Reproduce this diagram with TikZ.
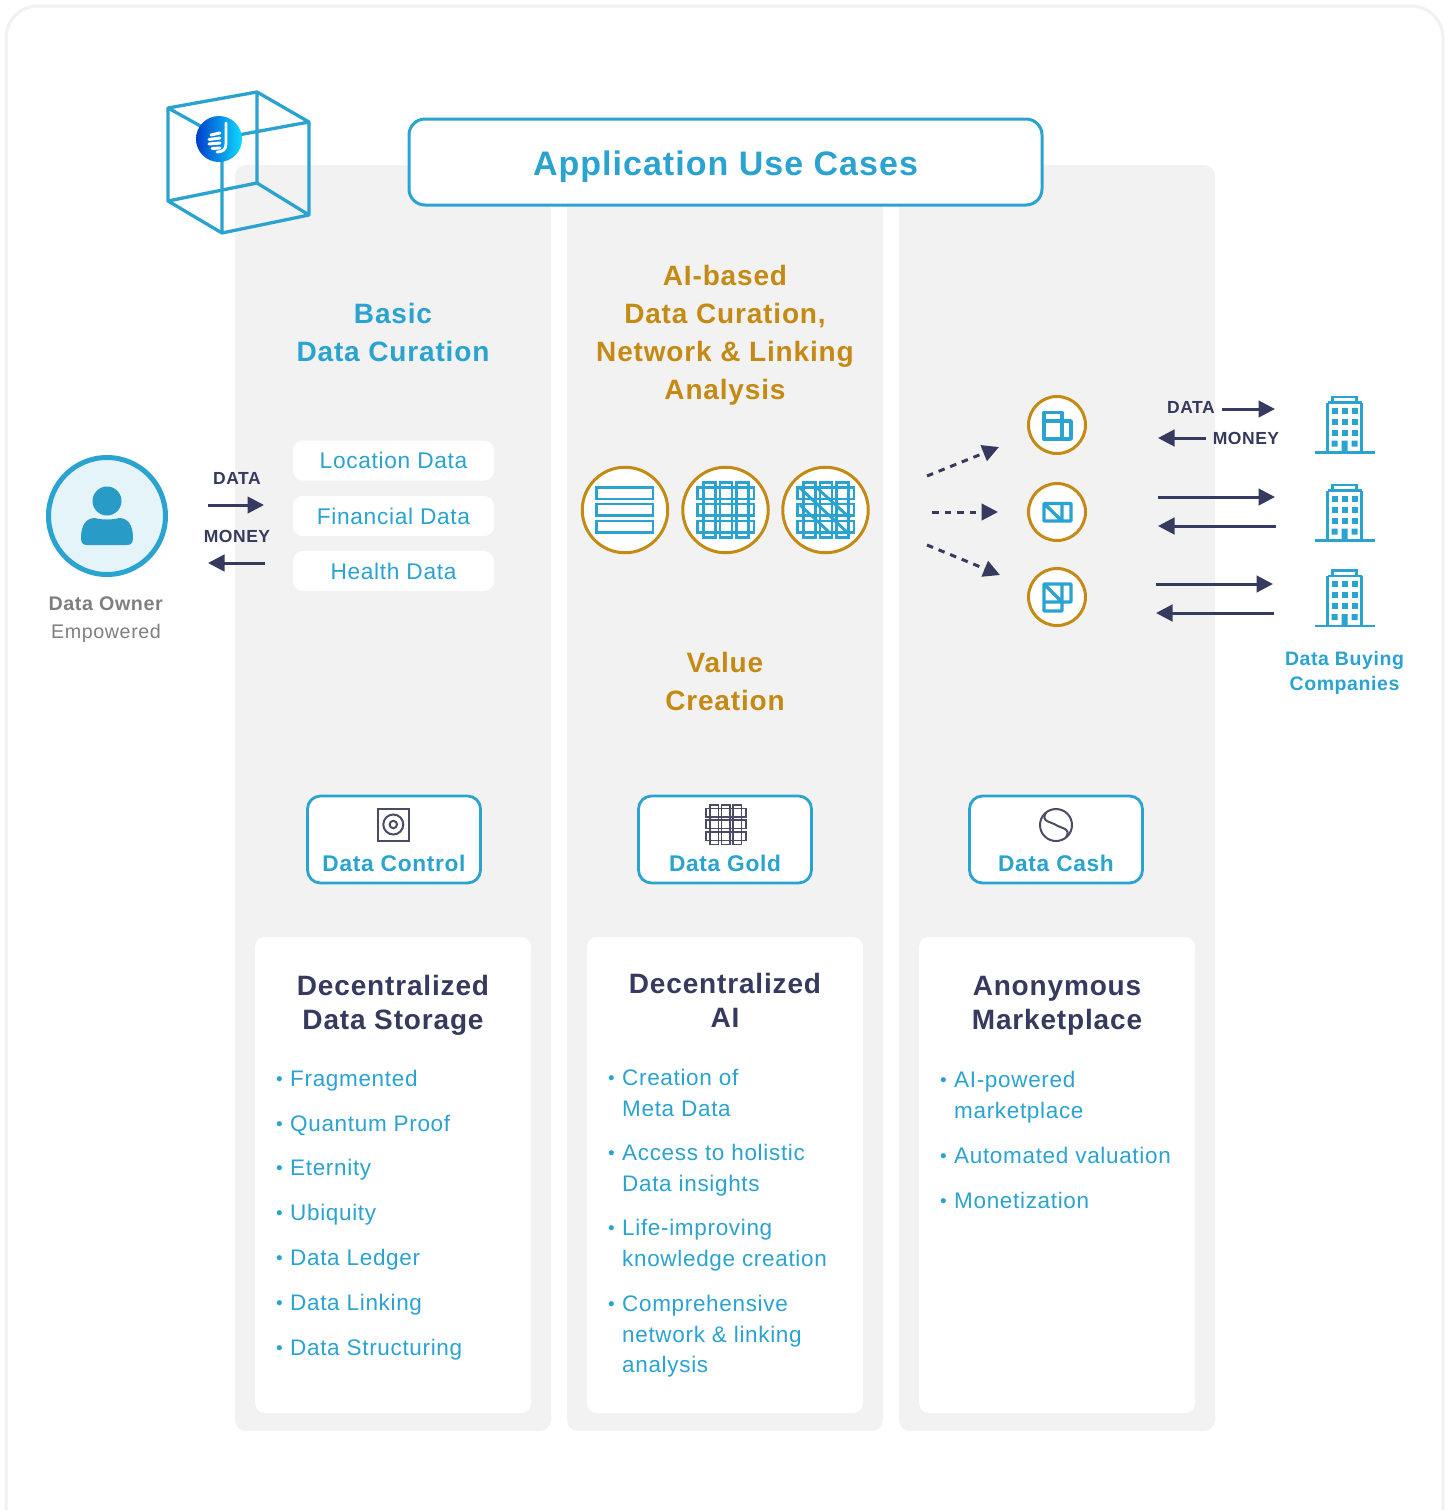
\documentclass[tikz,border=0pt]{standalone}
\usepackage{fontspec}
\setmainfont[LetterSpace=3]{Liberation Sans}
\usetikzlibrary{arrows.meta}
\definecolor{cblue}{HTML}{2AA3D0}
\definecolor{cgold}{HTML}{C48A14}
\definecolor{cnavy}{HTML}{363A5E}
\definecolor{cpanel}{HTML}{F2F2F2}
\definecolor{cframe}{HTML}{F1F1F1}
\definecolor{cgrey}{HTML}{7F7F7F}
\definecolor{cicon}{HTML}{4A4C66}
\newcommand{\fz}[2]{\fontsize{#1pt}{#2pt}\selectfont}
\newcommand{\itm}[1]{\makebox[14pt][l]{\fontsize{19pt}{19pt}\selectfont\raisebox{1pt}{•}}#1}
\newcommand{\cnt}{\hspace*{14pt}}
\tikzset{
  x=1pt,y=-1pt,
  panel/.style={fill=cpanel,rounded corners=11pt,minimum width=316pt,minimum height=1266pt,inner sep=0pt,outer sep=0pt},
  card/.style={fill=white,rounded corners=10pt,minimum width=276pt,minimum height=476pt,inner sep=0pt,outer sep=0pt},
  pill/.style={fill=white,rounded corners=10pt,minimum width=201pt,minimum height=40pt,inner sep=0pt,outer sep=0pt,text=cblue,font=\fz{22.7}{28}},
  titlebox/.style={draw=cblue,line width=3pt,fill=white,rounded corners=16pt,minimum width=633pt,minimum height=86pt,inner sep=0pt,outer sep=0pt,text=cblue,font=\bfseries\fz{34}{40}},
  valuebox/.style={draw=cblue,line width=2.8pt,fill=white,rounded corners=13pt,minimum width=173pt,minimum height=87pt,inner sep=0pt,outer sep=0pt},
  valuetext/.style={inner sep=0pt,text=cblue,font=\bfseries\fz{22.7}{28}},
  head/.style={inner sep=0pt,align=center,font=\bfseries\fz{28}{38}},
  cardhead/.style={inner sep=0pt,align=center,text=cnavy,font=\bfseries\fz{28}{34}},
  listtext/.style={inner sep=0pt,anchor=base west,align=left,text=cblue,font=\fz{22.5}{30.3}},
  small/.style={inner sep=0pt,text=cnavy,font=\bfseries\fz{17.5}{20}},
  ring/.style={circle,draw=cgold,line width=3pt,fill=white,inner sep=0pt,outer sep=0pt},
  bigring/.style={ring,minimum size=85.5pt},
  smallring/.style={ring,minimum size=57pt},
  iconline/.style={draw=cblue,line width=2.9pt},
  glyph/.style={draw=cblue,line width=3.4pt,line join=round},
  darkicon/.style={draw=cicon,line width=2pt},
  cubeline/.style={draw=cblue,line width=3.3pt,line join=round},
  arrowline/.style={draw=cnavy,line width=3pt,-{Triangle[length=16.5pt,width=16.5pt]}},
  dashline/.style={arrowline,dash pattern=on 6.5pt off 6pt},
  building/.pic={
    \draw[draw=cblue,line width=2.4pt] (-17,-50)--(-17,0) (17,-50)--(17,0) (-17,-50)--(17,-50);
    \draw[draw=cblue,line width=2.2pt] (-12,-50) rectangle (12,-55.5);
    \draw[draw=cblue,line width=2.8pt] (-30,0)--(30,0);
    \foreach \wx in {-10,0,10}\foreach \wy in {-42,-31,-20}
      \fill[cblue] (\wx-3,\wy-3) rectangle (\wx+3,\wy+3);
    \fill[cblue] (-13,-12) rectangle (-7,-6) (7,-12) rectangle (13,-6) (-3,-12) rectangle (3,0);
  }
}
\begin{document}
\begin{tikzpicture}
\useasboundingbox (0,0) rectangle (1448,1510);
\fill[white] (0,0) rectangle (1448,1510);
\draw[cframe,line width=3pt,rounded corners=32pt] (6,1530)--(6,6)--(1443,6)--(1443,1530);

% panels and cards
\node[panel] (p1) at (393,798) {};
\node[panel] (p2) at (725,798) {};
\node[panel] (p3) at (1057,798) {};
\node[card] (c1) at (393,1175) {};
\node[card] (c2) at (725,1175) {};
\node[card] (c3) at (1057,1175) {};

% cube with logo
\coordinate (k1) at (168,108); \coordinate (k2) at (257,92); \coordinate (k3) at (309,122); \coordinate (k4) at (222,138);
\coordinate (k5) at (168,201); \coordinate (k6) at (257,183); \coordinate (k7) at (309,215); \coordinate (k8) at (222,233);
\draw[cubeline] (k1)--(k2)--(k3)--(k4)--cycle (k5)--(k6)--(k7)--(k8)--cycle (k1)--(k5) (k2)--(k6) (k3)--(k7) (k4)--(k8);
\node[circle,minimum size=46pt,inner sep=0pt,outer sep=0pt,left color=blue!70!cyan!80!black,right color=cyan!85!blue!95!white] (logo) at (219,139) {};
\draw[white,line width=2.8pt,line cap=round] (226,123)--(226,144) .. controls (226,150) and (222,152) .. (217,152);
\draw[white,line width=3pt,line cap=round] (211,135)--(220,133) (209,139.5)--(220,138) (209,144)--(220,143) (212,148.5)--(220,148);

% title
\node[titlebox] (title) at (725.5,162) {\raisebox{-13pt}[0pt][0pt]{Application Use Cases}};

% column headings
\node[head,text=cblue] (h1) at (393,332) {Basic\\Data Curation};
\node[head,text=cgold] (h2) at (725,335.5) {AI-based\\Data Curation,\\Network \& Linking\\Analysis};
\node[head,text=cgold] (h3) at (725,681) {Value\\Creation};

% data pills
\node[pill] (d1) at (393.5,460.5) {Location Data};
\node[pill] (d2) at (393.5,516) {Financial Data};
\node[pill] (d3) at (393.5,571) {Health Data};

% data owner
\node[circle,draw=cblue,line width=5pt,fill=cblue!12!white,minimum size=117pt,inner sep=0pt,outer sep=0pt] (owner) at (107,516) {};
\fill[cblue!95!black] (107,501) circle (14.5pt);
\fill[cblue!95!black] (81,538) .. controls (81,524) and (87,518) .. (95,518) .. controls (101,520) and (113,520) .. (119,518) .. controls (127,518) and (133,524) .. (133,538) .. controls (133,543) and (131,545) .. (127,545) -- (87,545) .. controls (83,545) and (81,543) .. (81,538) -- cycle;
\node[inner sep=0pt,align=center,text=cgrey,font=\fz{19.7}{28}] (ownerlabel) at (106,620) {\textbf{Data Owner}\\Empowered};

\node[small] (ldata) at (237,478) {DATA};
\node[small] (lmoney) at (237,536) {MONEY};
\coordinate (a1s) at (208,505); \coordinate (a1e) at (264,505);
\coordinate (a2s) at (265,563); \coordinate (a2e) at (208,563);
\draw[arrowline] (a1s)--(a1e);
\draw[arrowline] (a2s)--(a2e);

% big circles with icons
\node[bigring] (r1) at (625,510) {};
\node[bigring] (r2) at (725.5,510) {};
\node[bigring] (r3) at (825.5,510) {};
\foreach \ry in {487.5,504,521}{
  \draw[iconline] (596.5,\ry) rectangle (653,\ry+11.5);
  \draw[iconline] (697.5,\ry) rectangle (754,\ry+11.5);
  \draw[iconline] (797.5,\ry) rectangle (854,\ry+11.5);
}
\foreach \rx in {703.5,720,736.5}{
  \draw[iconline] (\rx,482.5) rectangle (\rx+12,537.5);
  \draw[iconline] (\rx+100,482.5) rectangle (\rx+112,537.5);
}
\draw[iconline] (800,488)--(849,534) (817,488)--(850,518) (800,505)--(830,533);

% small circles with icons
\node[smallring] (s1) at (1057,425) {};
\node[smallring] (s2) at (1057,512) {};
\node[smallring] (s3) at (1057,597) {};
\draw[glyph] (1044,412.5) rectangle (1062,439) (1044,421)--(1062,421) (1062,421) rectangle (1071,439);
\draw[glyph] (1044,503.5) rectangle (1071,521) (1062,503.5)--(1062,521) (1044,503.5)--(1062,521);
\draw[glyph] (1044,584) rectangle (1071,602) (1044,584) rectangle (1062,611) (1062,584)--(1062,602) (1044,584)--(1062,602) (1044,602)--(1062,602);

% dashed arrows
\coordinate (da1) at (927,476); \coordinate (da2) at (999,447);
\coordinate (db1) at (932,512); \coordinate (db2) at (998,512);
\coordinate (dc1) at (927,545); \coordinate (dc2) at (1000,575);
\draw[dashline] (da1)--(da2);
\draw[dashline] (db1)--(db2);
\draw[dashline] (dc1)--(dc2);

% right arrows
\node[small] (rdata) at (1191,407) {DATA};
\node[small] (rmoney) at (1246,438) {MONEY};
\coordinate (b1s) at (1222,409); \coordinate (b1e) at (1275,409);
\coordinate (b2s) at (1206,438); \coordinate (b2e) at (1158,438);
\coordinate (b3s) at (1158,497); \coordinate (b3e) at (1275,497);
\coordinate (b4s) at (1276,526); \coordinate (b4e) at (1158,526);
\coordinate (b5s) at (1156,584); \coordinate (b5e) at (1273,584);
\coordinate (b6s) at (1274,613); \coordinate (b6e) at (1156,613);
\draw[arrowline] (b1s)--(b1e);
\draw[arrowline] (b2s)--(b2e);
\draw[arrowline] (b3s)--(b3e);
\draw[arrowline] (b4s)--(b4e);
\draw[arrowline] (b5s)--(b5e);
\draw[arrowline] (b6s)--(b6e);

% buildings
\pic at (1344.5,452.5) {building};
\pic at (1344.5,540.5) {building};
\pic at (1344.5,626) {building};
\node[inner sep=0pt,align=center,text=cblue,font=\bfseries\fz{19.5}{25}] (buyers) at (1344.5,672.5) {Data Buying\\Companies};

% value boxes
\node[valuebox] (v1) at (394,839.5) {};
\node[valuebox] (v2) at (725,839.5) {};
\node[valuebox] (v3) at (1056,839.5) {};
\node[valuetext] (v1t) at (394,863.5) {Data Control};
\node[valuetext] (v2t) at (725,863.5) {Data Gold};
\node[valuetext] (v3t) at (1056,863.5) {Data Cash};
\draw[darkicon] (377.5,808.5) rectangle (409,840.5);
\draw[darkicon] (393.3,824.5) circle (10pt) (393.3,824.5) circle (3.7pt);
\foreach \ry in {808.5,820,832}\draw[darkicon,line width=1.7pt] (706,\ry) rectangle (746,\ry+8.5);
\foreach \rx in {710,721.5,733}\draw[darkicon,line width=1.7pt] (\rx,805) rectangle (\rx+8.5,844.5);
\draw[darkicon] (1056,825) circle (16pt);
\draw[darkicon] (1046,812.5) .. controls (1040,822) and (1052,822) .. (1056,825) .. controls (1060,828) and (1072,828) .. (1066,837.5);

% card content
\node[cardhead] (t1) at (393,1005) {Decentralized\\Data Storage};
\node[cardhead] (t2) at (725,1000) {Decentralized\\AI};
\node[cardhead] (t3) at (1057,1006) {Anonymous\\Marketplace};

\node[listtext] (l11) at (276,1086) {\itm{Fragmented}};
\node[listtext] (l12) at (276,1131) {\itm{Quantum Proof}};
\node[listtext] (l13) at (276,1175) {\itm{Eternity}};
\node[listtext] (l14) at (276,1220) {\itm{Ubiquity}};
\node[listtext] (l15) at (276,1265) {\itm{Data Ledger}};
\node[listtext] (l16) at (276,1310) {\itm{Data Linking}};
\node[listtext] (l17) at (276,1355) {\itm{Data Structuring}};

\node[listtext] (l21) at (608,1116) {\itm{Creation of}\\\cnt Meta Data};
\node[listtext] (l22) at (608,1191) {\itm{Access to holistic}\\\cnt Data insights};
\node[listtext] (l23) at (608,1266) {\itm{Life-improving}\\\cnt knowledge creation};
\node[listtext] (l24) at (608,1372.5) {\itm{Comprehensive}\\\cnt network \& linking\\\cnt analysis};

\node[listtext] (l31) at (940,1118) {\itm{AI-powered}\\\cnt marketplace};
\node[listtext] (l32) at (940,1163) {\itm{Automated valuation}};
\node[listtext] (l33) at (940,1208) {\itm{Monetization}};
\end{tikzpicture}
\end{document}
